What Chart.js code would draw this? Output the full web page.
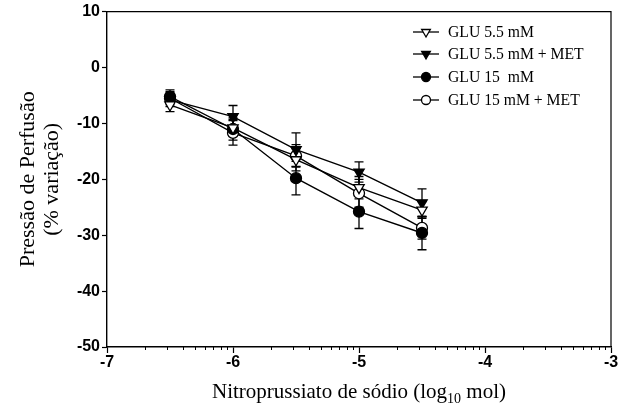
<!DOCTYPE html>
<html>
<head>
<meta charset="utf-8">
<script src="https://cdn.jsdelivr.net/npm/chart.js@4"></script>
<style>
  html, body { margin: 0; padding: 0; background: #fff; }
  #wrap { width: 625px; height: 414px; }
</style>
</head>
<body>
<div id="wrap"><canvas id="c" width="625" height="414"></canvas></div>
<script>
const doses = [-6.5, -6, -5.5, -5, -4.5];
const seriesNames = ['GLU 5.5 mM', 'GLU 5.5 mM + MET', 'GLU 15  mM', 'GLU 15 mM + MET'];
const glu55 = [-6.7, -10.8, -16.5, -21.5, -25.5];
const glu55Met = [-5.8, -8.8, -14.7, -18.7, -24.2];
const glu15 = [-5.2, -11.0, -19.8, -25.8, -29.6];
const glu15Met = [-5.5, -11.7, -15.8, -22.5, -28.7];
const glu55Err = [1.2, 1.5, 2.0, 2.0, 1.5];
const glu55MetErr = [1.2, 2.0, 3.0, 1.8, 2.5];
const glu15Err = [1.2, 2.0, 3.0, 3.0, 3.0];
const glu15MetErr = [1.2, 2.2, 2.0, 2.5, 2.0];
const xTicks = [-7, -6, -5, -4, -3];
const yTicks = [-50, -40, -30, -20, -10, 0, 10];

const pts = ys => doses.map((x, i) => ({x: x, y: ys[i]}));
const mk = (label, ys, errs, style, fill, rot) => ({
  label: label, data: pts(ys), errs: errs,
  showLine: true, borderColor: '#000', borderWidth: 1.4,
  pointStyle: style, pointRotation: rot, pointRadius: style === 'triangle' ? 6 : 5.5,
  pointBackgroundColor: fill, pointBorderColor: '#000', pointBorderWidth: 1.3
});

const datasets = [
  mk(seriesNames[0], glu55, glu55Err, 'triangle', '#fff', 180),
  mk(seriesNames[1], glu55Met, glu55MetErr, 'triangle', '#000', 180),
  mk(seriesNames[2], glu15, glu15Err, 'circle', '#000', 0),
  mk(seriesNames[3], glu15Met, glu15MetErr, 'circle', '#fff', 0)
];

const extras = {
  id: 'extras',
  beforeDatasetsDraw(chart) {
    const c = chart.ctx, xs = chart.scales.x, ys = chart.scales.y;
    c.save();
    c.strokeStyle = '#000';
    c.lineWidth = 1.3;
    chart.data.datasets.forEach(ds => {
      ds.data.forEach((p, i) => {
        const px = xs.getPixelForValue(p.x);
        const t = ys.getPixelForValue(p.y + ds.errs[i]);
        const b = ys.getPixelForValue(p.y - ds.errs[i]);
        c.beginPath();
        c.moveTo(px, t); c.lineTo(px, b);
        c.moveTo(px - 4.5, t); c.lineTo(px + 4.5, t);
        c.moveTo(px - 4.5, b); c.lineTo(px + 4.5, b);
        c.stroke();
      });
    });
    c.restore();
  },
  afterDraw(chart) {
    const c = chart.ctx, a = chart.chartArea, xs = chart.scales.x;
    c.save();
    c.strokeStyle = '#000';
    c.lineWidth = 1.2;
    // top and right frame
    c.beginPath();
    c.moveTo(a.left, a.top); c.lineTo(a.right, a.top); c.lineTo(a.right, a.bottom);
    c.stroke();
    // log minor ticks
    c.lineWidth = 1;
    for (let d = -7; d < -3; d++) {
      for (let k = 2; k <= 9; k++) {
        const px = Math.round(xs.getPixelForValue(d + Math.log10(k))) + 0.5;
        c.beginPath();
        c.moveTo(px, a.bottom); c.lineTo(px, a.bottom + 3);
        c.stroke();
      }
    }
    // x title with subscript
    c.fillStyle = '#000';
    c.textBaseline = 'alphabetic';
    const main = '21px "Liberation Serif"', sub = '14px "Liberation Serif"';
    const parts = [['Nitroprussiato de sódio (log', main, 0], ['10', sub, 5], [' mol)', main, 0]];
    let w = 0;
    parts.forEach(p => { c.font = p[1]; w += c.measureText(p[0]).width; });
    let x = (a.left + a.right) / 2 - w / 2;
    const y = 398;
    parts.forEach(p => { c.font = p[1]; c.fillText(p[0], x, y + p[2]); x += c.measureText(p[0]).width; });
    // legend
    const lx0 = 413, lx1 = 439, tx = 448;
    const rows = [32, 54, 77, 100];
    c.font = '15.7px "Liberation Serif"';
    c.textBaseline = 'middle';
    chart.data.datasets.forEach((ds, i) => {
      const ly = rows[i];
      c.lineWidth = 1.3;
      c.beginPath(); c.moveTo(lx0, ly); c.lineTo(lx1, ly); c.stroke();
      c.fillStyle = ds.pointBackgroundColor;
      c.strokeStyle = '#000';
      Chart.helpers.drawPoint(c, {
        pointStyle: ds.pointStyle, rotation: ds.pointRotation,
        radius: ds.pointStyle === 'triangle' ? 5 : 4.5, borderWidth: 1.2
      }, (lx0 + lx1) / 2, ly);
      c.fillStyle = '#000';
      c.fillText(ds.label, tx, ly + 1);
    });
    c.restore();
  }
};

new Chart(document.getElementById('c'), {
  type: 'scatter',
  data: { datasets: datasets },
  options: {
    responsive: false,
    animation: false,
    layout: { padding: { left: 0, right: 14, top: 11, bottom: 0 } },
    plugins: { legend: { display: false }, tooltip: { enabled: false } },
    scales: {
      x: {
        type: 'linear', min: -7, max: -3,
        afterBuildTicks: s => { s.ticks = xTicks.map(v => ({value: v})); },
        afterFit: s => { s.height = 67; },
        grid: { drawOnChartArea: false, tickLength: 6, color: '#000', tickWidth: 1.2 },
        border: { color: '#000', width: 1.4 },
        ticks: { color: '#000', font: { family: '"Liberation Sans"', size: 16, weight: 'bold' }, padding: 0, maxRotation: 0 }
      },
      y: {
        min: -50, max: 10,
        afterBuildTicks: s => { s.ticks = yTicks.map(v => ({value: v})); },
        afterFit: s => { s.width = 107; },
        grid: { drawOnChartArea: false, tickLength: 5, color: '#000', tickWidth: 1.2 },
        border: { color: '#000', width: 1.4 },
        ticks: { color: '#000', font: { family: '"Liberation Sans"', size: 16, weight: 'bold' }, padding: 2 },
        title: {
          display: true, text: ['Pressão de Perfusão', '(% variação)'], color: '#000',
          font: { family: '"Liberation Serif"', size: 22, weight: 'normal', lineHeight: 1.1 },
          padding: { top: 16, bottom: 0 }
        }
      }
    }
  },
  plugins: [extras]
});
</script>
</body>
</html>
